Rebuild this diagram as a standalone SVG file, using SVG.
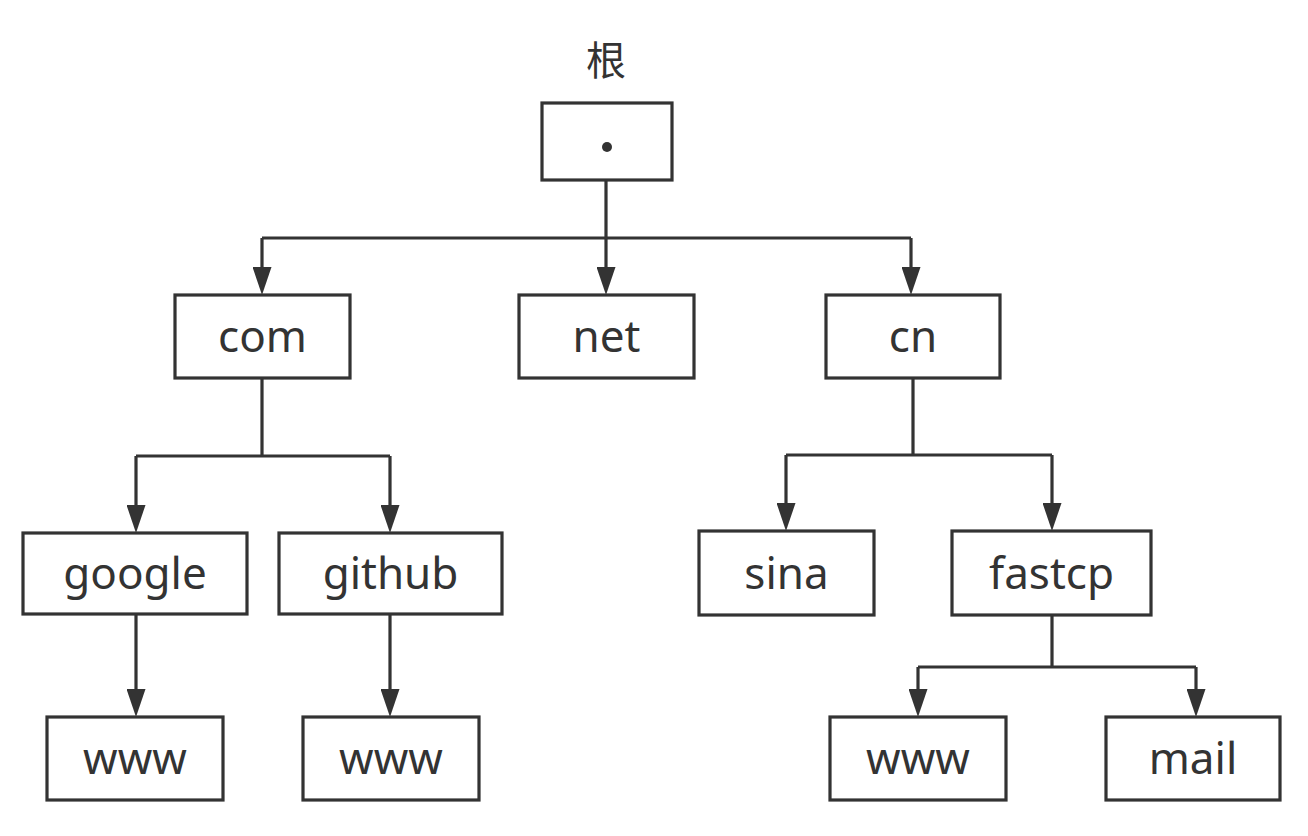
<svg xmlns="http://www.w3.org/2000/svg" width="1308" height="836" viewBox="0 0 1308 836">
<style>
.box{fill:#fff;stroke:#333;stroke-width:3.2}
.lbl{font-family:"Noto Sans","Liberation Sans",sans-serif;font-size:44px;fill:#333;text-anchor:middle}
.ln{fill:none;stroke:#333;stroke-width:3.2}
</style>
<defs>
<marker id="arr" viewBox="0 0 28 19" refX="14" refY="9.5" markerWidth="28" markerHeight="19" markerUnits="userSpaceOnUse" orient="auto">
<path d="M0,0 L28,9.5 L0,19 Z" fill="#333"/>
</marker>
</defs>
<rect width="1308" height="836" fill="#fff"/>
<text x="606" y="75" style="font-family:'Noto Sans CJK SC',sans-serif;font-size:40px;fill:#333;text-anchor:middle">根</text>
<g id="connectors">
<path class="ln" d="M606,180 V238 M262,238 H911"/>
<path class="ln" d="M262,378 V456 M136,456 H390"/>
<path class="ln" d="M913,378 V455 M786,455 H1052"/>
<path class="ln" d="M1052,615 V667 M918,667 H1196"/>
<line class="ln" x1="262" y1="238" x2="262" y2="281" marker-end="url(#arr)"/>
<line class="ln" x1="606" y1="238" x2="606" y2="281" marker-end="url(#arr)"/>
<line class="ln" x1="911" y1="238" x2="911" y2="281" marker-end="url(#arr)"/>
<line class="ln" x1="136" y1="456" x2="136" y2="519" marker-end="url(#arr)"/>
<line class="ln" x1="390" y1="456" x2="390" y2="519" marker-end="url(#arr)"/>
<line class="ln" x1="786" y1="455" x2="786" y2="517" marker-end="url(#arr)"/>
<line class="ln" x1="1052" y1="455" x2="1052" y2="517" marker-end="url(#arr)"/>
<line class="ln" x1="136" y1="614" x2="136" y2="703" marker-end="url(#arr)"/>
<line class="ln" x1="390" y1="614" x2="390" y2="703" marker-end="url(#arr)"/>
<line class="ln" x1="918" y1="667" x2="918" y2="703" marker-end="url(#arr)"/>
<line class="ln" x1="1196" y1="667" x2="1196" y2="703" marker-end="url(#arr)"/>
</g>
<g id="root"><rect class="box" x="542" y="103" width="130" height="77"/><circle cx="607" cy="147" r="5" fill="#333"/></g>
<g id="com"><rect class="box" x="175" y="295" width="175" height="83"/><text class="lbl" x="262.5" y="352">com</text></g>
<g id="net"><rect class="box" x="519" y="295" width="175" height="83"/><text class="lbl" x="606.5" y="352">net</text></g>
<g id="cn"><rect class="box" x="826" y="295" width="174" height="83"/><text class="lbl" x="913" y="352">cn</text></g>
<g id="google"><rect class="box" x="23" y="533" width="224" height="81"/><text class="lbl" x="135" y="589">google</text></g>
<g id="github"><rect class="box" x="279" y="533" width="223" height="81"/><text class="lbl" x="390.5" y="589">github</text></g>
<g id="sina"><rect class="box" x="699" y="531" width="175" height="84"/><text class="lbl" x="786.5" y="589">sina</text></g>
<g id="fastcp"><rect class="box" x="952" y="531" width="199" height="84"/><text class="lbl" x="1051.5" y="589">fastcp</text></g>
<g id="www1"><rect class="box" x="47" y="717" width="176" height="83"/><text class="lbl" x="135" y="774">www</text></g>
<g id="www2"><rect class="box" x="303" y="717" width="176" height="83"/><text class="lbl" x="391" y="774">www</text></g>
<g id="www3"><rect class="box" x="830" y="717" width="176" height="83"/><text class="lbl" x="918" y="774">www</text></g>
<g id="mail"><rect class="box" x="1106" y="717" width="174" height="83"/><text class="lbl" x="1193" y="774">mail</text></g>
</svg>
